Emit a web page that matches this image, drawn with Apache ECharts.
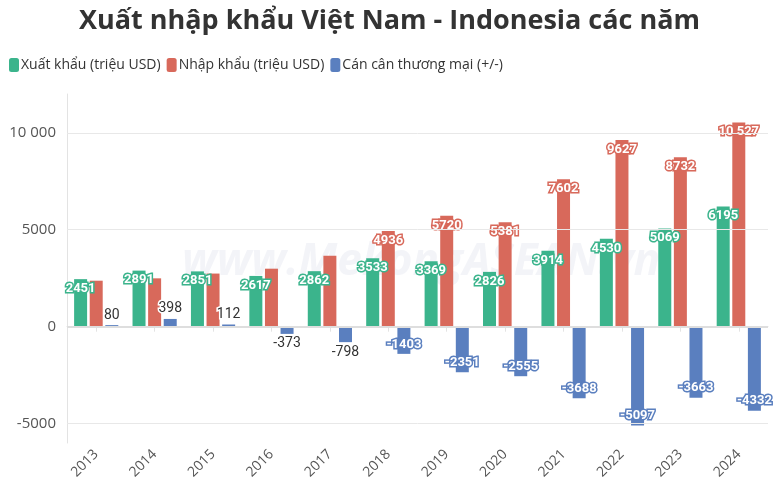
<!DOCTYPE html>
<html>
<head>
<meta charset="utf-8">
<script src="https://cdn.jsdelivr.net/npm/echarts@6/dist/echarts.min.js"></script>
<style>html,body{margin:0;padding:0;background:#fff}#c{width:779px;height:504px}</style>
</head>
<body>
<div id="c"></div>
<script>
const years = ['2013','2014','2015','2016','2017','2018','2019','2020','2021','2022','2023','2024'];
const exportVals = [2451, 2891, 2851, 2617, 2862, 3533, 3369, 2826, 3914, 4530, 5069, 6195];
const importVals = [2371, 2493, 2739, 2990, 3660, 4936, 5720, 5381, 7602, 9627, 8732, 10527];
const balanceVals = [80, 398, 112, -373, -798, -1403, -2351, -2555, -3688, -5097, -3663, -4332];
const gridValues = [-5000, 0, 5000, 10000];
const seriesNames = ['Xuất khẩu (triệu USD)', 'Nhập khẩu (triệu USD)', 'Cán cân thương mại (+/-)'];

const GREEN = '#3bb48c', RED = '#d8695b', BLUE = '#5a7fbf';
const FONT = '"Open Sans", "Noto Sans", sans-serif';

function fmt(v) {
  const s = String(Math.abs(v));
  const out = Math.abs(v) >= 10000 ? s.replace(/\B(?=(\d{3})+(?!\d))/g, ' ') : s;
  return (v < 0 ? '-' : '') + out;
}

const chart = echarts.init(document.getElementById('c'));

const barLabel = (color) => ({
  show: true, position: 'insideTop', distance: 3,
  color: '#fff', fontWeight: 'bold', fontSize: 13, fontFamily: 'Roboto, sans-serif',
  textBorderColor: color, textBorderWidth: 3,
  formatter: p => fmt(p.value)
});

// import labels are hidden where they would collide with the export label
const importData = importVals.map((v, i) => ({
  value: v, label: { show: v - exportVals[i] > 1000 }
}));

const balanceData = balanceVals.map(v => {
  let label;
  if (v > 0) {
    label = { position: 'top', distance: 3, color: '#333', fontWeight: 'normal', fontSize: 14,
      textBorderColor: '#fff', textBorderWidth: 3 };
  } else if (v > -1000) {
    label = { position: 'bottom', distance: 3, color: '#333', fontWeight: 'normal', fontSize: 14,
      textBorderColor: '#fff', textBorderWidth: 0 };
  } else {
    label = { position: 'insideBottom', distance: 3, color: '#fff', fontWeight: 'bold', fontSize: 13,
      textBorderColor: BLUE, textBorderWidth: 3 };
  }
  return { value: v, label };
});

chart.setOption({
  animation: false,
  backgroundColor: '#fff',
  title: {
    text: 'Xuất nhập khẩu Việt Nam - Indonesia các năm',
    left: 'center', top: 3,
    textStyle: { fontSize: 27, fontWeight: 'bold', color: '#333', fontFamily: FONT }
  },
  legend: {
    data: seriesNames,
    left: 4, top: 53,
    icon: 'roundRect', itemWidth: 10, itemHeight: 14, itemGap: 6,
    textStyle: { fontSize: 14, color: '#333', fontFamily: FONT, padding: [0, 0, 0, -3] }
  },
  graphic: [{
    type: 'text', left: 182, top: 240, z: 0, silent: true,
    style: { text: 'www.MekongASEAN.vn', fontSize: 44, fontWeight: 'bold', fontStyle: 'italic',
      fontFamily: FONT, fill: 'rgba(200,205,222,0.22)' }
  }],
  grid: { left: 67, right: 11, top: 94, bottom: 61 },
  xAxis: {
    type: 'category', data: years,
    axisLine: { lineStyle: { color: '#e3e3e3' } },
    axisTick: { show: true, alignWithLabel: true, length: 5, lineStyle: { color: '#e3e3e3' } },
    axisLabel: { rotate: 45, color: '#555', fontSize: 14, margin: 9, fontFamily: FONT }
  },
  yAxis: {
    type: 'value', min: -6000, max: 12000, interval: 1000,
    axisLine: { show: true, lineStyle: { color: '#e3e3e3' } },
    axisTick: { show: false },
    splitLine: { show: false },
    axisLabel: {
      color: '#555', fontSize: 15, margin: 11, fontFamily: FONT,
      formatter: v => (gridValues.indexOf(v) >= 0 ? fmt(v) : '')
    }
  },
  series: [
    {
      type: 'line', data: [], z: 1, silent: true,
      markLine: {
        silent: true, symbol: 'none', label: { show: false },
        lineStyle: { color: '#e8e8e8', type: 'solid', width: 1 },
        data: gridValues.map(v => ({ yAxis: v, lineStyle: v === 0 ? { color: '#dedede', width: 2 } : undefined }))
      }
    },
    {
      name: seriesNames[0], type: 'bar', data: exportVals, barWidth: 13, barGap: '20%',
      itemStyle: { color: GREEN }, label: barLabel(GREEN), z: 3
    },
    {
      name: seriesNames[1], type: 'bar', data: importData, barWidth: 13, barGap: '20%',
      itemStyle: { color: RED }, label: barLabel(RED), z: 3
    },
    {
      name: seriesNames[2], type: 'bar', data: balanceData, barWidth: 13, barGap: '20%',
      itemStyle: { color: BLUE }, z: 3,
      label: { show: true, fontFamily: 'Roboto, sans-serif', formatter: p => fmt(p.value) }
    }
  ]
});
</script>
</body>
</html>
